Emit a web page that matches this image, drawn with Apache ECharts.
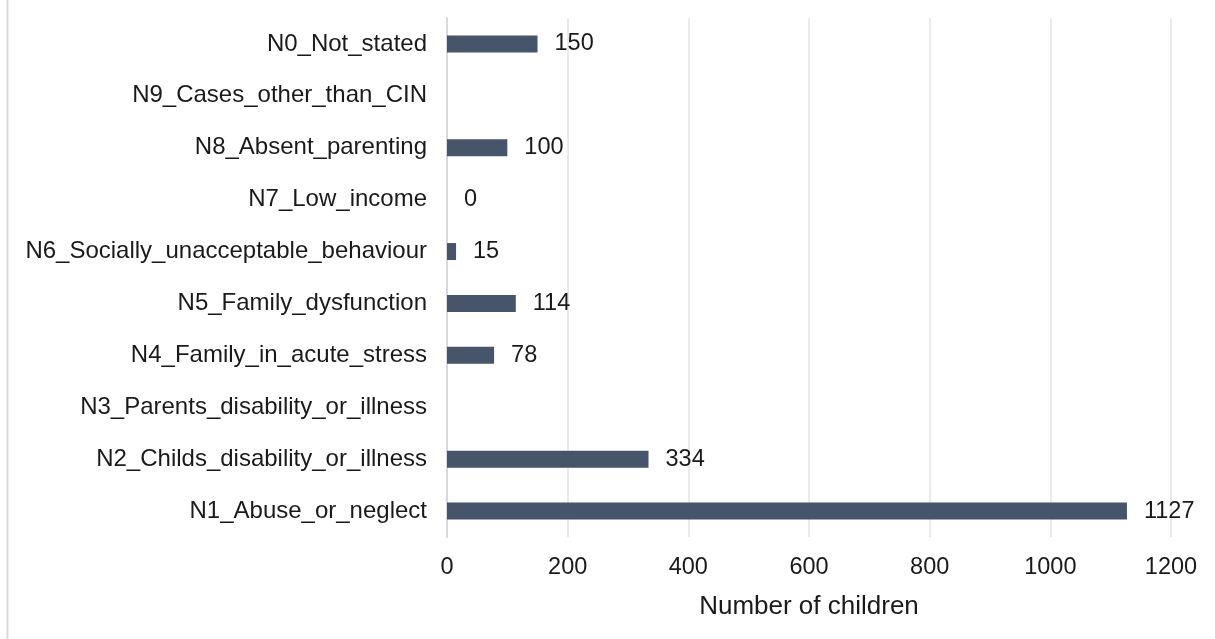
<!DOCTYPE html>
<html><head><meta charset="utf-8">
<script src="https://cdn.jsdelivr.net/npm/echarts@6/dist/echarts.min.js"></script>
<style>html,body{margin:0;padding:0;background:#fff}#c{width:1215px;height:639px}</style>
</head><body><div id="c"></div>
<script>
const categories = ["N1_Abuse_or_neglect","N2_Childs_disability_or_illness","N3_Parents_disability_or_illness","N4_Family_in_acute_stress","N5_Family_dysfunction","N6_Socially_unacceptable_behaviour","N7_Low_income","N8_Absent_parenting","N9_Cases_other_than_CIN","N0_Not_stated"];
const values = [1127, 334, null, 78, 114, 15, 0, 100, null, 150];
const xTicks = [0, 200, 400, 600, 800, 1000, 1200];

const chart = echarts.init(document.getElementById('c'));
const font = 'Liberation Sans, Arial, sans-serif';
chart.setOption({
  animation: false,
  graphic: [{type:'line', shape:{x1:7.5,y1:0,x2:7.5,y2:639}, style:{stroke:'#d9d9d9', lineWidth:2}}],
  grid: {left: 447, right: 44, top: 18, bottom: 102},
  xAxis: {
    type: 'value', min: xTicks[0], max: xTicks[xTicks.length-1], interval: 200,
    name: 'Number of children', nameLocation: 'middle', nameGap: 57,
    nameTextStyle: {fontFamily: font, fontSize: 26, color: '#1a1a1a'},
    axisLine: {show: false}, axisTick: {show: false},
    axisLabel: {fontFamily: font, fontSize: 23.5, color: '#1a1a1a', margin: 19, formatter: v => String(v)},
    splitLine: {show: true, lineStyle: {color: '#ebebeb', width: 2}}
  },
  yAxis: {
    type: 'category', data: categories,
    axisLine: {show: true, lineStyle: {color: '#d9d9d9', width: 2}},
    axisTick: {show: false},
    axisLabel: {fontFamily: font, fontSize: 24, color: '#1a1a1a', margin: 20}
  },
  series: [{
    type: 'bar', data: values, barWidth: 17,
    itemStyle: {color: '#465569'},
    label: {show: true, position: 'right', distance: 17, fontFamily: font, fontSize: 23.5, color: '#1a1a1a'}
  }]
});
</script></body></html>
